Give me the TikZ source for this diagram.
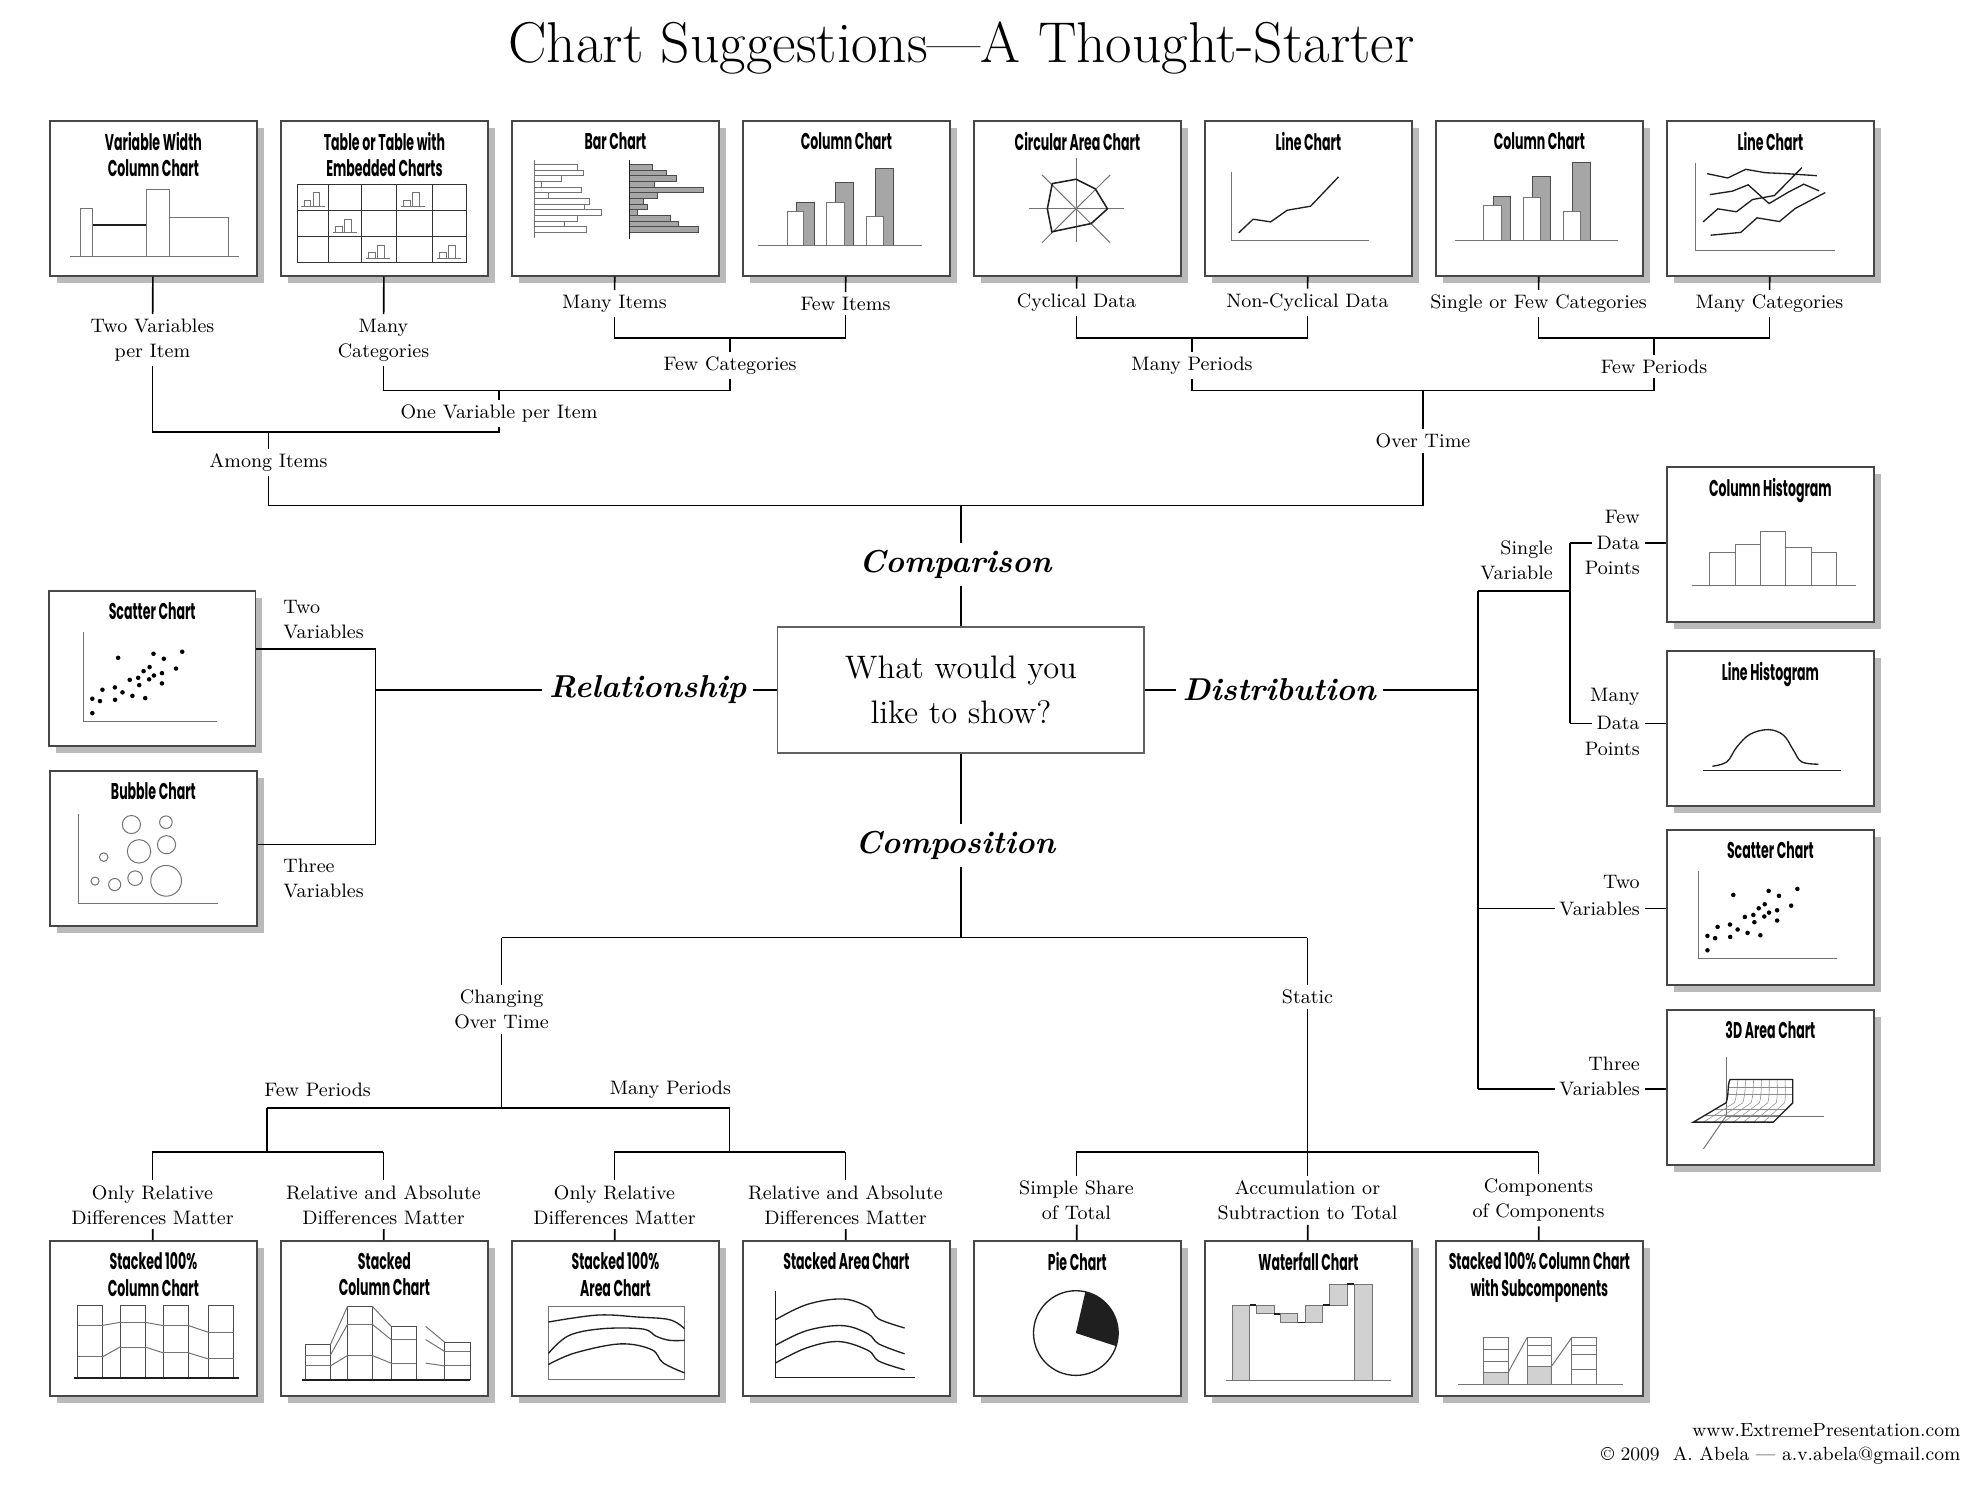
\documentclass[tikz,border=0pt]{standalone}
\usepackage{fontspec}
\newfontfamily\chartfont{Poppins}[FakeStretch=0.55]
\usetikzlibrary{shadows}
\newcommand\chartbox[4]{%
  \node[chart] (#1) at (#2,#3) {};
  \node[ctitle] (#1t) at ([yshift=-0.19cm]#1.north) {#4};}
\newcommand\stcol[6]{\draw[wbar,draw=black!70] (#1,#3) rectangle (#2,#6); \draw[tl] (#1,#4) -- (#2,#4) (#1,#5) -- (#2,#5);}
\newcommand\scatterdots{\foreach \px/\py in {21.5/79.6, 21.5/70.3, 25.2/71.8, 26.4/64.5, 32.4/63, 32.5/71, 34/43.9, 36.1/66.2, 39.6/58.1, 40.9/68.4, 43.7/56.8, 44.2/61.5, 46.3/52.5, 47.1/69.9, 49.2/49.9, 49/57.8, 51.3/55.3, 51.1/41.3, 55.2/53.8, 55.2/60.4, 56.1/44.5, 62/50.8, 65/40}{\fill (\px,\py) circle[x radius=1.1, y radius=1.46];}}
\begin{document}
\begin{tikzpicture}[x=0.02cm, y=-0.02cm,
  conn/.style={line width=0.75pt, draw=black},
  chart/.style={draw=black!72, line width=0.85pt, fill=white, minimum width=3.28cm, minimum height=2.46cm, inner sep=0pt, anchor=north west, drop shadow={shadow xshift=0.11cm, shadow yshift=-0.11cm, opacity=1, fill=black!27}},
  ctitle/.style={font=\chartfont\bfseries\fontsize{10.3}{12}\selectfont, align=center, anchor=north, inner sep=0pt},
  lab/.style={font=\fontsize{8.8}{11.3}\selectfont, align=center, inner sep=2pt},
  big/.style={font=\fontsize{14.3}{17}\selectfont\bfseries\itshape, inner sep=3pt},
  qbox/.style={draw=black!62, line width=0.8pt, minimum width=5.82cm, minimum height=2cm, align=center, font=\fontsize{14.7}{20.4}\selectfont},
  tl/.style={line width=0.45pt, draw=black!55},
  tk/.style={line width=0.6pt, draw=black!88},
  gbar/.style={fill=black!35, draw=black!70, line width=0.45pt},
  wbar/.style={fill=white, draw=black!55, line width=0.45pt},
  lbar/.style={fill=black!18, draw=black!55, line width=0.45pt},
  grid3d/.style={line width=0.25pt, draw=black!45},
]
\fill[white] (0,0) rectangle (1568,1179);
\useasboundingbox (0,0) rectangle (1568,1179);

\node[font=\fontsize{26}{30}\selectfont, inner sep=0pt] (title) at (763,38) {Chart Suggestions—A Thought-Starter};

% ---------------- top row ----------------
\chartbox{t1}{39}{95}{Variable Width\\Column Chart}
\begin{scope}[shift={(t1.north west)}, xscale=1.64, yscale=1.23]
  \draw[wbar] (15,88) rectangle (21,57);
  \draw[wbar] (21,88) rectangle (47,68);
  \draw[wbar] (47,88) rectangle (58,45);
  \draw[wbar] (58,88) rectangle (87,63);
  \draw[tk] (21,68) -- (47,68);
  \draw[tl] (10,88) -- (92,88);
\end{scope}

\chartbox{t2}{222.3}{95}{Table or Table with\\Embedded Charts}
\begin{scope}[shift={(t2.north west)}, xscale=1.64, yscale=1.23]
  \draw[line width=0.45pt, black!80] (8.3,41.6) rectangle (90.2,92.1);
  \foreach \c in {23.5,39.6,56.5,73.9} \draw[line width=0.45pt, black!80] (\c,41.6) -- (\c,92.1);
  \foreach \r in {58.4,75.5} \draw[line width=0.45pt, black!80] (8.3,\r) -- (90.2,\r);
  \foreach \a/\b in {8.3/58.4, 56.5/58.4, 23.5/75.5, 39.6/92.1, 73.9/92.1} {
    \draw[tl] (\a+3.3,\b-2.6) rectangle (\a+6.5,\b-6.4);
    \draw[tl] (\a+7.6,\b-2.6) rectangle (\a+10.9,\b-11.2);
    \draw[tl] (\a+2,\b-2.6) -- (\a+13.5,\b-2.6);
  }
\end{scope}

\chartbox{t3}{405.6}{95}{Bar Chart}
\begin{scope}[shift={(t3.north west)}, xscale=1.64, yscale=1.23]
  \foreach \i/\e in {0/32.2,1/34.8,2/24.6,3/14.8,4/33.9,5/18,6/38,7/35.4,8/43.5,9/32.2,10/26,11/36.7}
    \draw[wbar] (11.5,{29+3.65*\i}) rectangle (\e,{29+3.65*(\i+1)});
  \draw[tl] (11.5,26) -- (11.5,76);
  \foreach \i/\e in {0/68.5,1/75.2,2/80.2,3/69.3,4/93,5/71,6/63.9,7/66.1,8/60.9,9/77.2,10/81.1,11/90.7}
    \draw[gbar] (57.2,{29+3.65*\i}) rectangle (\e,{29+3.65*(\i+1)});
  \draw[tk] (57.2,26) -- (57.2,77);
\end{scope}

\chartbox{t4}{588.9}{95}{Column Chart}
\begin{scope}[shift={(t4.north west)}, xscale=1.64, yscale=1.23]
  \draw[gbar] (26.2,81) rectangle (34.8,53.2);
  \draw[gbar] (45.3,81) rectangle (53.9,40.3);
  \draw[gbar] (64.6,81) rectangle (73.2,31.5);
  \draw[wbar] (21.9,81) rectangle (29.8,59);
  \draw[wbar] (41,81) rectangle (49.3,53.4);
  \draw[wbar] (60,81) rectangle (68.4,62.4);
  \draw[tl] (7.6,81) -- (87,81);
\end{scope}

\chartbox{t5}{772.2}{95}{Circular Area Chart}
\begin{scope}[shift={(t5.north west)}, xscale=1.64, yscale=1.23]
  \draw[tl] (26.8,57.5) -- (72.8,57.5);
  \draw[tl] (49.8,24.5) -- (49.8,79);
  \draw[tl] (33.3,35.6) -- (66.3,79.4);
  \draw[tl] (66.3,35.6) -- (33.3,79.4);
  \draw[tk, line width=0.7pt] (38.3,41.2) -- (49.8,38.4) -- (59.1,44.6) -- (65,57.5) -- (57.1,67) -- (38.1,72.3) -- (35.9,57.5) -- cycle;
\end{scope}

\chartbox{t6}{955.5}{95}{Line Chart}
\begin{scope}[shift={(t6.north west)}, xscale=1.64, yscale=1.23]
  \draw[tl] (13.3,33.7) -- (13.3,77.7) -- (80,77.7);
  \draw[tk] (16.7,73) -- (23.7,64.2) -- (32.2,65.9) -- (40.2,58.4) -- (51.5,55.8) -- (65,36.9);
\end{scope}

\chartbox{t7}{1138.8}{95}{Column Chart}
\begin{scope}[shift={(t7.north west)}, xscale=1.64, yscale=1.23]
  \draw[gbar] (28.4,77.7) rectangle (36.7,49.6);
  \draw[gbar] (47.3,77.7) rectangle (55.8,36.7);
  \draw[gbar] (66.6,77.7) rectangle (75,27.7);
  \draw[wbar] (23.6,77.7) rectangle (32.1,55.6);
  \draw[wbar] (42.6,77.7) rectangle (51.1,50);
  \draw[wbar] (61.9,77.7) rectangle (70.5,59);
  \draw[tl] (9.5,77.7) -- (88.4,77.7);
\end{scope}

\chartbox{t8}{1322.1}{95}{Line Chart}
\begin{scope}[shift={(t8.north west)}, xscale=1.64, yscale=1.23]
  \draw[tl] (14.2,27.7) -- (14.2,84.1) -- (81.8,84.1);
  \draw[tk] (19.8,34.8) -- (29.8,37.6) -- (38.5,32) -- (48,34.2) -- (58,34.8) -- (72.9,36.1);
  \draw[tk] (21.2,48.3) -- (32,46.1) -- (39.7,42) -- (49.8,54.1) -- (59.3,46.6) -- (66.6,41.6) -- (74,45.9);
  \draw[tk] (17.9,65.9) -- (25,57.5) -- (34,59.4) -- (41.8,51.5) -- (52.4,48.9) -- (65.7,30.9);
  \draw[tk] (21.5,74.5) -- (36.1,72.7) -- (44,63.3) -- (54.8,65.7) -- (62.4,57.3) -- (77,47);
\end{scope}

% ---------------- relationship ----------------
\chartbox{rs}{38}{468}{Scatter Chart}
\begin{scope}[shift={(rs.north west)}, xscale=1.64, yscale=1.23]
  \draw[tl] (17.2,27.5) -- (17.2,85) -- (81.7,85);
  \scatterdots
\end{scope}

\chartbox{rb}{39}{611}{Bubble Chart}
\begin{scope}[shift={(rb.north west)}, xscale=1.64, yscale=1.23]
  \draw[tl] (14.2,28.7) -- (14.2,86) -- (81.6,86);
  \foreach \bx/\by/\rx/\ry in {39.8/35.2/4.39/5.85, 56.5/33.7/3.05/4.07, 43.5/52.5/5.67/7.56, 56.8/48.2/4.39/5.85, 26.4/56.2/2.07/2.76, 22.2/71.7/1.95/2.6, 31.7/73.9/2.93/3.9, 41.6/69.8/3.54/4.72, 56.6/71.5/7.44/9.92}
    \draw[tl] (\bx,\by) circle[x radius=\rx, y radius=\ry];
\end{scope}

% ---------------- distribution ----------------
\chartbox{dh}{1322.1}{370}{Column Histogram}
\begin{scope}[shift={(dh.north west)}, xscale=1.64, yscale=1.23]
  \draw[wbar] (21,77.2) rectangle (33.4,55.5);
  \draw[wbar] (33.4,77.2) rectangle (45.6,50.4);
  \draw[wbar] (45.6,77.2) rectangle (57.9,41.9);
  \draw[wbar] (57.9,77.2) rectangle (70.2,52.3);
  \draw[wbar] (70.2,77.2) rectangle (82.6,55.5);
  \draw[tl] (12.4,77.2) -- (91.9,77.2);
\end{scope}

\chartbox{dl}{1322.1}{516}{Line Histogram}
\begin{scope}[shift={(dl.north west)}, xscale=1.64, yscale=1.23]
  \draw[tk] (17.6,77.4) -- (84.7,77.4);
  \draw[tk] plot[smooth, tension=0.6] coordinates {(22.4,74.8) (29.4,72) (34.2,62.4) (40.6,54.2) (49.5,51.2) (56.8,54.8) (61.6,64.5) (65.6,72) (73.7,73.5)};
\end{scope}

\chartbox{ds}{1322.1}{658}{Scatter Chart}
\begin{scope}[shift={(ds.north west)}, xscale=1.64, yscale=1.23]
  \draw[tl] (15.6,27.2) -- (15.6,83.5) -- (82.6,83.5);
  \begin{scope}[shift={(-1.5,-1.5)}]
    \scatterdots
  \end{scope}
\end{scope}

\chartbox{da}{1322.1}{801}{3D Area Chart}
\begin{scope}[shift={(da.north west)}, xscale=1.64, yscale=1.23]
  \draw[tl] (29,30.5) -- (29,68.8) -- (76.5,68.8);
  \draw[tl] (29,68.8) -- (18.1,89.9);
  \foreach \i in {1,...,7} {
    \draw[grid3d] ({31+\i*3.79},45.2) .. controls ({30.5+\i*3.85},48) and ({30.5+\i*3.95},55) .. ({29+\i*4.04},60.2);
    \draw[grid3d] ({29+\i*4.04},60.2) -- ({13.2+\i*4.84},72.7);
  }
  \draw[grid3d] (30.3,50) -- (61.3,50);
  \draw[grid3d] (29.9,55) -- (61.3,55);
  \draw[grid3d] (23.7,64.4) -- (58.2,64.4);
  \draw[grid3d] (18.5,68.5) -- (55,68.5);
  \draw[tk] (13.2,72.7) -- (29,60.2) .. controls (30.5,55) and (29.5,48) .. (31,45.2) -- (61.3,45.2) -- (61.3,60.2) -- (51.9,72.7) -- cycle;
\end{scope}

% ---------------- bottom row ----------------
\chartbox{b1}{39}{984}{Stacked 100\%\\Column Chart}
\begin{scope}[shift={(b1.north west)}, xscale=1.64, yscale=1.23]
  \stcol{13.9}{26}{42}{55}{75.2}{88.9}
  \stcol{34.3}{46.4}{42}{53.1}{69}{88.9}
  \stcol{55.3}{67.5}{42}{55.2}{72.8}{88.9}
  \stcol{77}{89.2}{42}{59.5}{76.7}{88.9}
  \draw[tl] (26,55) -- (34.3,53.1) (46.4,53.1) -- (55.3,55.2) (67.5,55.2) -- (77,59.5);
  \draw[tl] (26,75.2) -- (34.3,69) (46.4,69) -- (55.3,72.8) (67.5,72.8) -- (77,76.7);
  \draw[tk] (12,88.9) -- (91.8,88.9);
\end{scope}

\chartbox{b2}{222.3}{984}{Stacked\\Column Chart}
\begin{scope}[shift={(b2.north west)}, xscale=1.64, yscale=1.23]
  \stcol{12.2}{24.3}{67.5}{74.3}{81.2}{90.2}
  \stcol{32.6}{44.6}{42.8}{54.4}{74.5}{90.2}
  \stcol{53.7}{65.9}{55.7}{64.2}{79.4}{90.2}
  \stcol{79.6}{92}{65.9}{71.9}{81.2}{90.2}
  \draw[tl] (24.3,67.5) -- (32.6,42.8) (24.3,74.3) -- (32.6,54.4) (24.3,81.2) -- (32.6,74.5);
  \draw[tl] (44.6,42.8) -- (53.7,55.7) (44.6,54.4) -- (53.7,64.2) (44.6,74.5) -- (53.7,79.4);
  \draw[tl] (70.4,55.7) -- (79.6,65.9) (70.4,64.2) -- (79.6,71.9) (70.4,79.4) -- (79.6,81.2);
  \draw[tk] (10.4,90.2) -- (91.9,90.2);
\end{scope}

\chartbox{b3}{405.6}{984}{Stacked 100\%\\Area Chart}
\begin{scope}[shift={(b3.north west)}, xscale=1.64, yscale=1.23]
  \draw[tl] (18,42.6) rectangle (83.9,90.2);
  \draw[tk] plot[smooth, tension=0.6] coordinates {(18,52.9) (41.9,48.4) (61.5,49.7) (76.7,51.4) (83.9,57.2)};
  \draw[tk] plot[smooth, tension=0.6] coordinates {(18,73.2) (27.8,61.7) (44.1,57.2) (63.7,57.4) (70.2,62.1) (76.7,64.7) (83.9,64.7)};
  \draw[tk] plot[smooth, tension=0.6] coordinates {(18,80.3) (31,72.8) (52.8,67) (68,70.7) (73.5,79.2) (83.9,85.7)};
\end{scope}

\chartbox{b4}{588.9}{984}{Stacked Area Chart}
\begin{scope}[shift={(b4.north west)}, xscale=1.64, yscale=1.23]
  \draw[tk] (16,32.6) -- (16,88.6) -- (83.5,88.6);
  \draw[tk] plot[smooth, tension=0.6] coordinates {(16,51.5) (31.3,41.6) (48.7,38) (60.9,43.3) (66.1,50.9) (78.6,56.7)};
  \draw[tk] plot[smooth, tension=0.6] coordinates {(16,68) (31.3,58.4) (48.7,55.2) (60.9,60.5) (66.1,67) (78.6,73.4)};
  \draw[tk] plot[smooth, tension=0.6] coordinates {(16,79.4) (31.3,69.5) (46.9,65.5) (60.9,71.2) (66.1,78.1) (78.6,83.7)};
\end{scope}

\chartbox{b5}{772.2}{984}{Pie Chart}
\coordinate (pc) at (853.7,1057.8);
\begin{scope}[shift={(pc)}, x=1cm, y=1cm]
  \fill[black!88] (0,0) -- (-18:0.672) arc[start angle=-18, end angle=77, radius=0.672] -- cycle;
  \draw[tk] (0,0) circle (0.672);
\end{scope}

\chartbox{b6}{955.5}{984}{Waterfall Chart}
\begin{scope}[shift={(b6.north west)}, xscale=1.64, yscale=1.23]
  \draw[lbar] (13.5,41.9) rectangle (22.1,90.3);
  \draw[lbar] (25.3,41.9) rectangle (33.8,47.7);
  \draw[lbar] (36.9,47.7) rectangle (45.3,53.3);
  \draw[lbar] (49,41.9) rectangle (57.5,53.3);
  \draw[lbar] (60.7,28.4) rectangle (69.2,41.9);
  \draw[lbar] (72.6,28.4) rectangle (81.3,90.3);
  \draw[tk] (22.1,41.9) -- (25.3,41.9) (33.8,47.7) -- (36.9,47.7) (45.3,53.3) -- (49,53.3) (57.5,41.9) -- (60.7,41.9) (69.2,28.4) -- (72.6,28.4);
  \draw[tl] (10.7,90.3) -- (90.6,90.3);
\end{scope}

\chartbox{b7}{1138.8}{984}{Stacked 100\% Column Chart\\with Subcomponents}
\begin{scope}[shift={(b7.north west)}, xscale=1.64, yscale=1.23]
  \fill[black!18] (23.4,85.2) rectangle (35.4,93.3);
  \fill[black!18] (44.5,81.3) rectangle (56.4,93.3);
  \draw[tl] (23.4,62.9) rectangle (35.4,93.3);
  \draw[tl] (44.5,62.9) rectangle (56.4,93.3);
  \draw[tl] (66.1,62.9) rectangle (78.2,93.3);
  \draw[tl] (23.4,70.4) -- (35.4,70.4) (23.4,78.1) -- (35.4,78.1) (23.4,85.2) -- (35.4,85.2);
  \draw[tl] (44.5,68.2) -- (56.4,68.2) (44.5,74.4) -- (56.4,74.4) (44.5,81.3) -- (56.4,81.3);
  \draw[tl] (66.1,68.2) -- (78.2,68.2) (66.1,73.8) -- (78.2,73.8) (66.1,83.7) -- (78.2,83.7);
  \draw[tl] (35.4,85.2) -- (44.5,62.9) (56.4,81.3) -- (66.1,62.9);
  \draw[tl] (11.3,93.3) -- (90.7,93.3);
\end{scope}

% ---------------- centre ----------------
\node[qbox] (q) at (762.5,547.5) {What would you\\like to show?};
\node[big] (comparison) at (758,448) {Comparison};
\node[big] (rel) at (514,547.5) {Relationship};
\node[big] (dist) at (1015,547.5) {Distribution};
\node[big] (comp) at (758,671) {Composition};

% ---------------- comparison tree ----------------
\node[lab] (l1) at (121,270) {Two Variables\\per Item};
\node[lab] (l2) at (304.3,270) {Many\\Categories};
\node[lab] (l3) at (487.6,241) {Many Items};
\node[lab] (l4) at (670.9,241) {Few Items};
\node[lab] (l5) at (854.2,240) {Cyclical Data};
\node[lab] (l6) at (1037.5,240) {Non-Cyclical Data};
\node[lab] (l7) at (1220.8,241) {Single or Few Categories};
\node[lab] (l8) at (1404.1,241) {Many Categories};
\node[lab] (fewcat) at (579.3,290) {Few Categories};
\node[lab] (manyper) at (945.9,290) {Many Periods};
\node[lab] (fewper) at (1312.5,291) {Few Periods};
\node[lab] (onevar) at (396,328) {One Variable per Item};
\node[lab] (among) at (213,367) {Among Items};
\node[lab] (overtime) at (1129.2,350) {Over Time};

\coordinate (h34) at (579.3,268);
\coordinate (h56) at (945.9,268);
\coordinate (h78) at (1312.5,268);
\coordinate (h2c) at (396,310);
\coordinate (hmf) at (1129.2,310);
\coordinate (h1o) at (213,343);
\coordinate (hao) at (762.5,401);

\foreach \n in {1,...,8} \draw[conn] (t\n) -- (l\n);
\draw[conn] (l3) -- (l3 |- h34) -- (l4 |- h34) -- (l4);
\draw[conn] (h34) -- (fewcat);
\draw[conn] (l5) -- (l5 |- h56) -- (l6 |- h56) -- (l6);
\draw[conn] (h56) -- (manyper);
\draw[conn] (l7) -- (l7 |- h78) -- (l8 |- h78) -- (l8);
\draw[conn] (h78) -- (fewper);
\draw[conn] (l2) -- (l2 |- h2c) -- (fewcat |- h2c) -- (fewcat);
\draw[conn] (h2c) -- (onevar);
\draw[conn] (manyper) -- (manyper |- hmf) -- (fewper |- hmf) -- (fewper);
\draw[conn] (hmf) -- (overtime);
\draw[conn] (l1) -- (l1 |- h1o) -- (onevar |- h1o) -- (onevar);
\draw[conn] (h1o) -- (among);
\draw[conn] (among) -- (among |- hao) -- (overtime |- hao) -- (overtime);
\draw[conn] (hao) -- (hao |- comparison.north);
\draw[conn] (hao |- comparison.south) -- (q.north);

% ---------------- relationship tree ----------------
\coordinate (rj) at (298,547.5);
\coordinate (rjt) at (298,515);
\coordinate (rjb) at (298,670);
\draw[conn] (q) -- (rel);
\draw[conn] (rel) -- (rj);
\draw[conn] (rjt) -- (rjb);
\draw[conn] (rjt) -- (rjt -| rs.east);
\draw[conn] (rjb) -- (rjb -| rb.east);
\node[lab, align=left, anchor=west] (rtwo) at (221,492) {Two\\Variables};
\node[lab, align=left, anchor=west] (rthree) at (221,697) {Three\\Variables};

% ---------------- distribution tree ----------------
\coordinate (dj) at (1173,547.5);
\coordinate (djt) at (1173,469);
\coordinate (dj2) at (1173,721);
\coordinate (djb) at (1173,864);
\coordinate (sv) at (1246,469);
\coordinate (svt) at (1246,431);
\coordinate (svb) at (1246,574);
\draw[conn] (q) -- (dist);
\draw[conn] (dist) -- (dj);
\draw[conn] (djt) -- (djb);
\draw[conn] (djt) -- (sv);
\draw[conn] (svt) -- (svb);
\node[lab, align=right, anchor=east] (single) at (1236,445) {Single\\Variable};
\node[lab, anchor=east] (fdpa) at (1305,410) {Few};
\node[lab, anchor=east] (fdpb) at (1305,431) {Data};
\node[lab, anchor=east] (fdpc) at (1305,451) {Points};
\node[lab, anchor=east] (mdpa) at (1305,553) {Many};
\node[lab, anchor=east] (mdpb) at (1305,574) {Data};
\node[lab, anchor=east] (mdpc) at (1305,594) {Points};
\node[lab, anchor=east] (tva) at (1305,700) {Two};
\node[lab, anchor=east] (tvb) at (1305,721) {Variables};
\node[lab, anchor=east] (thva) at (1305,844) {Three};
\node[lab, anchor=east] (thvb) at (1305,864) {Variables};
\draw[conn] (svt) -- (fdpb);
\draw[conn] (fdpb) -- (fdpb -| dh.west);
\draw[conn] (svb) -- (mdpb);
\draw[conn] (mdpb) -- (mdpb -| dl.west);
\draw[conn] (dj2) -- (tvb);
\draw[conn] (tvb) -- (tvb -| ds.west);
\draw[conn] (djb) -- (thvb);
\draw[conn] (thvb) -- (thvb -| da.west);

% ---------------- composition tree ----------------
\coordinate (cj) at (762.5,744);
\coordinate (cl) at (398,744);
\coordinate (cr) at (1037.5,744);
\draw[conn] (q.south) -- (q.south |- comp.north);
\draw[conn] (q.south |- comp.south) -- (cj);
\draw[conn] (cl) -- (cr);
\node[lab] (chg) at (398,801) {Changing\\Over Time};
\node[lab] (static) at (1037.5,791) {Static};
\draw[conn] (cl) -- (chg);
\draw[conn] (cr) -- (static);
\coordinate (chj) at (398,879);
\coordinate (fpj) at (212,879);
\coordinate (mpj) at (579,879);
\coordinate (fpj2) at (212,914);
\coordinate (mpj2) at (579,914);
\coordinate (sj) at (1037.5,914);
\draw[conn] (chg) -- (chj);
\draw[conn] (fpj) -- (mpj);
\node[lab] (fp) at (252,865) {Few Periods};
\node[lab] (mp) at (532,865) {Many Periods};
\draw[conn] (fpj) -- (fpj2);
\draw[conn] (mpj) -- (mpj2);
\node[lab] (bl1) at (121,956) {Only Relative\\Differences Matter};
\node[lab] (bl2) at (304.3,956) {Relative and Absolute\\Differences Matter};
\node[lab] (bl3) at (487.6,956) {Only Relative\\Differences Matter};
\node[lab] (bl4) at (670.9,956) {Relative and Absolute\\Differences Matter};
\node[lab] (bl5) at (854.2,952.5) {Simple Share\\of Total};
\node[lab] (bl6) at (1037.5,952.5) {Accumulation or\\Subtraction to Total};
\node[lab] (bl7) at (1220.8,952.5) {Components\\of Components};
\draw[conn] (bl1 |- fpj2) -- (bl2 |- fpj2);
\draw[conn] (bl3 |- mpj2) -- (bl4 |- mpj2);
\draw[conn] (static) -- (sj);
\draw[conn] (bl5 |- sj) -- (bl7 |- sj);
\draw[conn] (bl1 |- fpj2) -- (bl1);
\draw[conn] (bl2 |- fpj2) -- (bl2);
\draw[conn] (bl3 |- mpj2) -- (bl3);
\draw[conn] (bl4 |- mpj2) -- (bl4);
\draw[conn] (bl5 |- sj) -- (bl5);
\draw[conn] (bl6 |- sj) -- (bl6);
\draw[conn] (bl7 |- sj) -- (bl7);
\foreach \n in {1,...,7} \draw[conn] (bl\n) -- (b\n);

% ---------------- footer ----------------
\node[lab, anchor=east, inner sep=0pt, font=\fontsize{8.6}{11}\selectfont] (web) at (1556,1135) {www.ExtremePresentation.com};
\node[lab, anchor=east, inner sep=0pt, font=\fontsize{8.6}{11}\selectfont] (copy) at (1556,1155) {\textcopyright{} 2009\ \ A. Abela — a.v.abela@gmail.com};
\end{tikzpicture}
\end{document}
